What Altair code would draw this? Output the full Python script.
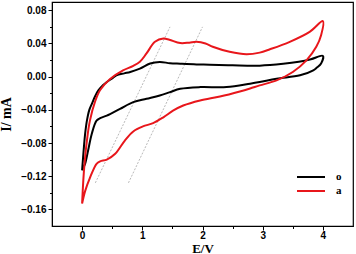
import altair as alt
import pandas as pd

# --- data (E in V, I in mA) ---
series_names = ["o", "a"]

o_fwd_E = [0, 0.03, 0.05, 0.08, 0.12, 0.16, 0.22, 0.27, 0.35, 0.41, 0.5, 0.57, 0.7, 0.8, 0.96, 1.13, 1.29, 1.46, 1.63, 1.9, 2.12, 2.5, 2.95, 3.34, 3.6, 3.8, 4.0]
o_fwd_I = [-0.113, -0.085, -0.069, -0.053, -0.040, -0.033, -0.023, -0.0166, -0.010, -0.0065, -0.002, 0.0016, 0.004, 0.0056, 0.0097, 0.0158, 0.0177, 0.0162, 0.0156, 0.0148, 0.0145, 0.0137, 0.0133, 0.0155, 0.018, 0.021, 0.025]
o_rev_E = [3.97, 3.9, 3.84, 3.62, 3.23, 2.95, 2.79, 2.4, 1.96, 1.63, 1.46, 1.29, 1.07, 0.85, 0.63, 0.41, 0.3, 0.24, 0.16, 0.1, 0.05, 0.02, 0]
o_rev_I = [0.016, 0.011, 0.0076, 0.0016, -0.0024, -0.0065, -0.0085, -0.0126, -0.0126, -0.0146, -0.0186, -0.0227, -0.0267, -0.0307, -0.0388, -0.047, -0.050, -0.053, -0.069, -0.089, -0.105, -0.110, -0.113]

a_fwd_E = [0, 0.02, 0.04, 0.08, 0.13, 0.22, 0.3, 0.46, 0.68, 0.85, 0.96, 1.07, 1.21, 1.35, 1.45, 1.63, 1.78, 1.9, 2.05, 2.17, 2.45, 2.73, 2.95, 3.12, 3.45, 3.78, 4.0]
a_fwd_I = [-0.153, -0.125, -0.105, -0.077, -0.053, -0.029, -0.016, -0.003, 0.0076, 0.013, 0.018, 0.028, 0.042, 0.046, 0.0445, 0.0405, 0.041, 0.042, 0.040, 0.036, 0.030, 0.027, 0.029, 0.033, 0.042, 0.054, 0.067]
a_rev_E = [3.97, 3.89, 3.73, 3.5, 3.23, 2.95, 2.79, 2.62, 2.29, 1.96, 1.68, 1.51, 1.35, 1.18, 1.01, 0.85, 0.71, 0.55, 0.41, 0.3, 0.24, 0.13, 0.05, 0]
a_rev_I = [0.050, 0.036, 0.020, 0.0056, -0.0045, -0.0105, -0.0142, -0.0178, -0.0239, -0.0287, -0.0348, -0.041, -0.049, -0.056, -0.060, -0.066, -0.077, -0.093, -0.100, -0.102, -0.105, -0.122, -0.138, -0.153]

# guide lines (dashed)
guide_E1 = [0.22, 0.77]
guide_I1 = [-0.128, -0.128]
guide_E2 = [1.46, 2.0]
guide_I2 = [0.060, 0.060]

x_ticks = [0, 0.5, 1, 1.5, 2, 2.5, 3, 3.5, 4]
y_ticks = [-0.16, -0.14, -0.12, -0.10, -0.08, -0.06, -0.04, -0.02, 0.0, 0.02, 0.04, 0.06, 0.08]

rows = []
for name, E, I in [("o", o_fwd_E + o_rev_E, o_fwd_I + o_rev_I),
                   ("a", a_fwd_E + a_rev_E, a_fwd_I + a_rev_I)]:
    for k, (e, i) in enumerate(zip(E, I)):
        rows.append({"E": e, "I": i, "series": name, "idx": k})
df = pd.DataFrame(rows)

gdf = pd.DataFrame({"E1": guide_E1, "I1": guide_I1, "E2": guide_E2, "I2": guide_I2})

xscale = alt.Scale(domain=[-0.5, 4.5], nice=False, zero=False)
yscale = alt.Scale(domain=[-0.18, 0.09], nice=False, zero=False)

xaxis = alt.Axis(
    title="E/V", values=x_ticks,
    labelExpr="datum.value % 1 == 0 ? format(datum.value, 'd') : ''",
    tickSize={"condition": {"test": "datum.value % 1 == 0", "value": 4}, "value": 2.5},
    grid=False, labelFont="Liberation Sans", labelFontWeight="bold", labelFontSize=10,
    labelColor="black", labelPadding=0, domainColor="black", tickColor="black",
    titleFont="Liberation Serif", titleFontWeight="bold", titleFontSize=13,
    titleColor="black", titleY=26, titleBaseline="alphabetic",
)
yaxis = alt.Axis(
    title="I/ mA", values=y_ticks,
    labelExpr="abs(round(datum.value * 100)) % 4 == 0 ? format(datum.value, '.2f') : ''",
    tickSize={"condition": {"test": "abs(round(datum.value * 100)) % 4 == 0", "value": 4}, "value": 2.5},
    grid=False, labelFont="Liberation Sans", labelFontWeight="bold", labelFontSize=10,
    labelColor="black", labelPadding=2, domainColor="black", tickColor="black",
    titleFont="Liberation Serif", titleFontWeight="bold", titleFontSize=14,
    titleColor="black", titlePadding=7,
)

guides = alt.Chart(gdf).mark_rule(color="#9a9a9a", strokeWidth=0.7, strokeDash=[2, 1.5]).encode(
    x=alt.X("E1:Q", scale=xscale, axis=xaxis),
    y=alt.Y("I1:Q", scale=yscale, axis=yaxis),
    x2="E2:Q", y2="I2:Q",
)

curves = alt.Chart(df).mark_line(strokeWidth=2, interpolate="catmull-rom").encode(
    x=alt.X("E:Q", scale=xscale, axis=xaxis),
    y=alt.Y("I:Q", scale=yscale, axis=yaxis),
    color=alt.Color("series:N",
                    scale=alt.Scale(domain=series_names, range=["#000000", "#e8161b"]),
                    legend=alt.Legend(title=None, orient="none", legendX=251, legendY=167,
                                      symbolType="M-2,0H2", symbolSize=196, symbolStrokeWidth=2,
                                      labelFont="Liberation Serif", labelFontWeight="bold",
                                      labelFontSize=11, labelColor="black", labelOffset=17,
                                      padding=0, rowPadding=1)),
    order="idx:Q",
)

chart = alt.layer(guides, curves).properties(
    width=301, height=224,
    padding={"left": 52, "top": 2, "right": 3, "bottom": 28},
    autosize=alt.AutoSizeParams(type="none"),
    background="white",
).configure_view(stroke="black", strokeWidth=1.2)

chart.save("out.html", embed_options={"renderer": "svg", "actions": False})
